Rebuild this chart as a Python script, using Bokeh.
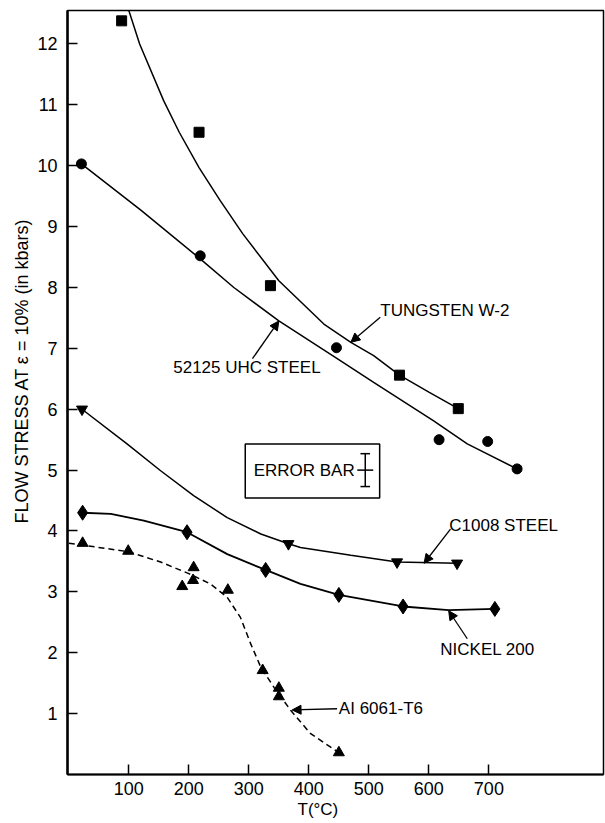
from bokeh.plotting import figure
from bokeh.models import Range1d, FixedTicker, Arrow, NormalHead, ColumnDataSource, Title
from bokeh.embed import file_html
from bokeh.resources import INLINE
from bokeh.core.properties import value

# ---- measured data points (T in degC, flow stress in kbar) ----
w2_T = [88, 217, 336, 551, 649]
w2_S = [12.38, 10.55, 8.03, 6.56, 6.01]
uhc_T = [21, 219, 446, 617, 698, 747]
uhc_S = [10.03, 8.52, 7.01, 5.50, 5.47, 5.02]
c1008_T = [22, 366, 547, 647]
c1008_S = [6.00, 3.79, 3.49, 3.47]
ni_T = [23, 197, 328, 450, 557, 710]
ni_S = [4.30, 3.98, 3.36, 2.95, 2.76, 2.72]
al_T = [23, 99, 189, 208, 207, 265, 323, 350, 350, 450]
al_S = [3.80, 3.67, 3.09, 3.40, 3.19, 3.03, 1.71, 1.42, 1.28, 0.36]

# ---- hand-drawn fit curves ----
w2_fit_T = [100, 118, 158, 184, 217, 252, 290, 350, 425, 470, 508, 551, 600, 649]
w2_fit_S = [12.55, 12.0, 11.07, 10.55, 9.97, 9.43, 8.88, 8.11, 7.40, 7.10, 6.88, 6.56, 6.28, 6.01]
uhc_fit_T = [21, 120, 219, 275, 350, 446, 508, 608, 664, 747]
uhc_fit_S = [10.03, 9.27, 8.47, 8.00, 7.45, 6.84, 6.44, 5.81, 5.43, 5.02]
c1008_fit_T = [22, 97, 153, 208, 264, 320, 366, 386, 470, 547, 647]
c1008_fit_S = [6.00, 5.43, 4.99, 4.58, 4.22, 3.95, 3.79, 3.73, 3.60, 3.49, 3.47]
ni_fit_T = [23, 70, 125, 197, 264, 328, 386, 450, 557, 633, 710]
ni_fit_S = [4.30, 4.28, 4.17, 3.98, 3.62, 3.36, 3.13, 2.95, 2.76, 2.70, 2.72]
al_fit_T = [0, 99, 153, 200, 236, 264, 286, 303, 320, 342, 370, 403, 450]
al_fit_S = [3.80, 3.66, 3.49, 3.30, 3.13, 2.91, 2.58, 2.15, 1.76, 1.43, 1.05, 0.67, 0.36]

# ---- annotations ----
label_text = ["TUNGSTEN W-2", "52125 UHC STEEL", "C1008 STEEL", "NICKEL 200", "AI 6061-T6", "ERROR BAR"]
label_T = [519, 174, 634, 619, 450, 308]
label_S = [7.62, 6.68, 4.09, 2.06, 1.08, 4.99]
arrow_T0 = [519, 306, 636, 664, 447]
arrow_S0 = [7.51, 6.83, 4.03, 2.23, 1.08]
arrow_T1 = [470, 350, 592, 633, 372]
arrow_S1 = [7.10, 7.45, 3.47, 2.69, 1.06]
box_T = [294, 518]
box_S = [4.54, 5.43]
err_T, err_S, err_dT, err_dS, err_cap = 494, 5.0, 13.3, 0.27, 8

x_ticks = [100, 200, 300, 400, 500, 600, 700]
y_ticks = [1, 2, 3, 4, 5, 6, 7, 8, 9, 10, 11, 12]
x_title = "T(\u00b0C)"
y_title = "FLOW STRESS AT \u03b5 = 10% (in kbars)"

FONT = "Liberation Sans"

p = figure(width=605, height=823, x_range=Range1d(-2.2, 891), y_range=Range1d(0, 12.55),
           output_backend="svg", toolbar_location=None,
           min_border_left=67, min_border_right=2, min_border_top=10, min_border_bottom=49)
p.background_fill_color = "white"
p.border_fill_color = "white"
p.outline_line_color = "black"
p.outline_line_width = 1.5
p.xgrid.visible = False
p.ygrid.visible = False

for ax in (p.xaxis[0], p.yaxis[0]):
    ax.major_tick_in = 10
    ax.major_tick_out = 0
    ax.minor_tick_in = 0
    ax.minor_tick_out = 0
    ax.major_tick_line_width = 1.5
    ax.major_tick_line_color = "black"
    ax.axis_line_color = "black"
    ax.major_label_text_font = FONT
    ax.major_label_text_font_size = "18px"
    ax.major_label_text_color = "black"
p.xaxis.ticker = FixedTicker(ticks=x_ticks)
p.yaxis.ticker = FixedTicker(ticks=y_ticks)
p.xaxis.axis_line_width = 2
p.yaxis.axis_line_width = 2.5
p.xaxis.major_label_standoff = 7
p.yaxis.major_label_standoff = 10

ytitle = Title(text=y_title, align="left", offset=251, standoff=6,
               text_font=FONT, text_font_size="18px", text_font_style="normal", text_color="black")
p.add_layout(ytitle, "left")
xtitle = Title(text=x_title, align="left", offset=230, standoff=0,
               text_font=FONT, text_font_size="17px", text_font_style="normal", text_color="black")
p.add_layout(xtitle, "below")

# fit curves
p.line(w2_fit_T, w2_fit_S, line_color="black", line_width=1.5)
p.line(uhc_fit_T, uhc_fit_S, line_color="black", line_width=1.5)
p.line(c1008_fit_T, c1008_fit_S, line_color="black", line_width=1.5)
p.line(ni_fit_T, ni_fit_S, line_color="black", line_width=1.8)
p.line(al_fit_T, al_fit_S, line_color="black", line_width=1.5, line_dash="6 4")

# data points
p.scatter(w2_T, w2_S, marker="square", size=10, color="black")
p.scatter(uhc_T, uhc_S, marker="circle", size=10, color="black")
p.scatter(c1008_T, c1008_S, marker="inverted_triangle", size=11, color="black")
p.scatter(ni_T, ni_S, marker="diamond", size=15, color="black")
p.scatter(al_T, al_S, marker="triangle", size=11, color="black")

# labels
src = ColumnDataSource(dict(x=label_T, y=label_S, t=label_text))
p.text(x="x", y="y", text="t", source=src, text_font=value(FONT), text_font_size="17px",
       text_align="left", text_baseline="middle", text_color="black")

asrc = ColumnDataSource(dict(x0=arrow_T0, y0=arrow_S0, x1=arrow_T1, y1=arrow_S1))
p.add_layout(Arrow(x_start="x0", y_start="y0", x_end="x1", y_end="y1", source=asrc,
                   line_color="black", line_width=1.3,
                   end=NormalHead(size=9, fill_color="black", line_color="black", line_width=1)))

# error bar box
p.quad(left=[box_T[0]], right=[box_T[1]], bottom=[box_S[0]], top=[box_S[1]],
       fill_color=None, line_color="black", line_width=1.5)
p.segment(x0=[err_T, err_T - err_dT, err_T - err_cap, err_T - err_cap],
          y0=[err_S - err_dS, err_S, err_S + err_dS, err_S - err_dS],
          x1=[err_T, err_T + err_dT, err_T + err_cap, err_T + err_cap],
          y1=[err_S + err_dS, err_S, err_S + err_dS, err_S - err_dS],
          line_color="black", line_width=1.5)

open("out.html", "w").write(file_html(p, INLINE))
